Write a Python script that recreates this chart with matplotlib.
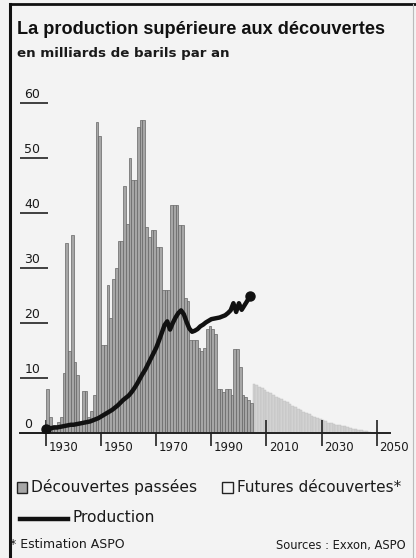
import matplotlib
matplotlib.use("Agg")
import matplotlib.pyplot as plt
from matplotlib.patches import Rectangle
from matplotlib.lines import Line2D
import matplotlib.transforms as mtransforms

# past discoveries, one value per year from 1930 (billions of barrels)
past_years = list(range(1930, 2005))
past_values = [
    8, 3, 1.5, 1.5, 2, 3, 11, 34.5, 15, 36,
    13, 10.5, 2, 7.7, 7.7, 3, 4, 7, 56.5, 54,
    16, 16, 27, 21, 28, 30, 35, 35, 45, 38,
    50, 46, 46, 55.7, 57, 57, 37.4, 35.6, 37, 37,
    33.8, 33.8, 26, 26, 26, 41.4, 41.4, 41.4, 37.8, 37.8,
    24.6, 24, 17, 17, 17, 15.5, 15, 15.5, 19, 19.5,
    19, 18, 8, 8, 7.5, 8, 8, 7, 15.3, 15.3,
    12, 7, 6.5, 6, 5.5,
]

# future discoveries (ASPO estimate)
future_years = list(range(2005, 2048))
future_values = [
    9.0, 8.7, 8.4, 8.1, 7.8, 7.5, 7.2, 6.9, 6.6, 6.4,
    6.2, 5.9, 5.6, 5.3, 5.0, 4.7, 4.4, 4.2, 3.9, 3.6,
    3.4, 3.1, 2.9, 2.7, 2.5, 2.3, 2.1, 1.9, 1.8, 1.6,
    1.5, 1.4, 1.3, 1.2, 1.1, 0.9, 0.8, 0.7, 0.6, 0.5,
    0.4, 0.3, 0.2,
]

# production
prod_years = list(range(1930, 2005))
prod_values = [
    0.8, 0.9, 0.9, 1.0, 1.0, 1.1, 1.2, 1.3, 1.4, 1.5,
    1.5, 1.6, 1.7, 1.8, 1.9, 2.0, 2.1, 2.3, 2.5, 2.7,
    3.0, 3.3, 3.6, 3.9, 4.2, 4.6, 5.0, 5.5, 6.0, 6.4,
    6.8, 7.4, 8.1, 8.9, 9.8, 10.7, 11.5, 12.5, 13.5, 14.5,
    15.5, 16.8, 18.2, 19.6, 20.3, 18.8, 20.0, 21.0, 21.8, 22.3,
    21.6, 20.2, 19.0, 18.4, 18.6, 18.9, 19.4, 19.7, 20.1, 20.4,
    20.7, 20.8, 20.9, 21.0, 21.2, 21.4, 21.8, 22.3, 23.6, 22.0,
    23.6, 22.4, 23.2, 24.0, 25.0,
]

y_ticks = [0, 10, 20, 30, 40, 50, 60]
x_ticks = [1930, 1950, 1970, 1990, 2010, 2030, 2050]

W, H = 416, 558
fig = plt.figure(figsize=(W / 100, H / 100), dpi=100, facecolor="#f3f3f3")

def fx(px):
    return px / W

def fy(py):
    return 1 - py / H

# axes: 0 at y=433 px, 60 at y=103 px; 1930 at x=46 px, 2050 at x=377 px
ax = fig.add_axes([fx(20), fy(433), fx(370), (433 - 92) / H])
ax.set_facecolor("#f3f3f3")
ax.set_ylim(0, 62)
x0 = 1930 - 26 / 2.756
ax.set_xlim(x0, x0 + 370 / 2.756)

ax.bar(past_years, past_values, width=1.0, align="edge",
       color="#a6a6a6", edgecolor="#666666", linewidth=0.5, zorder=2)
ax.bar(future_years, future_values, width=1.0, align="edge",
       color="#d2d2d2", edgecolor="#bdbdbd", linewidth=0.3, zorder=1)
ax.plot(prod_years, prod_values, color="#111111", linewidth=3.2,
        solid_capstyle="round", zorder=4)
ax.plot([prod_years[0], prod_years[-1]], [prod_values[0], prod_values[-1]],
        "o", color="#111111", markersize=6.5, zorder=5)

for s in ["left", "right", "top"]:
    ax.spines[s].set_visible(False)
ax.spines["bottom"].set_linewidth(1.4)
ax.spines["bottom"].set_color("#222222")

ax.set_yticks(y_ticks)
ax.set_yticklabels([])
ax.tick_params(axis="y", direction="in", length=20, width=1.2, color="#222222")
ax.set_xticks(x_ticks)
ax.set_xticklabels([])
ax.tick_params(axis="x", direction="inout", length=19, width=1.2, color="#222222")

for v in y_ticks:
    ax.text(0.012, v + 0.4, str(v), transform=ax.get_yaxis_transform(),
            ha="left", va="bottom", fontsize=9, color="#1a1a1a")

xtr = mtransforms.blended_transform_factory(ax.transData, ax.transAxes)
for yr in x_ticks:
    ax.text(yr + 0.9, -0.043, str(yr), transform=xtr, ha="left", va="center",
            fontsize=8.5, color="#1a1a1a")

# title block
fig.text(fx(17), fy(30), "La production supérieure aux découvertes",
         ha="left", va="center", fontweight="bold", color="#111111",
         family="Liberation Sans", fontsize=13.1)
fig.text(fx(17), fy(53), "en milliards de barils par an",
         ha="left", va="center", fontweight="bold", fontsize=9.6, color="#1a1a1a",
         family="DejaVu Sans")

# legend
fig.patches.append(Rectangle((fx(17), fy(493)), fx(10), 11 / H, transform=fig.transFigure,
                             facecolor="#a6a6a6", edgecolor="#222222", linewidth=1))
fig.text(fx(31), fy(487), "Découvertes passées", ha="left", va="center",
         fontsize=11.2, color="#1a1a1a")
fig.patches.append(Rectangle((fx(222), fy(493)), fx(11), 11 / H, transform=fig.transFigure,
                             facecolor="#f3f3f3", edgecolor="#222222", linewidth=1))
fig.text(fx(237), fy(487), "Futures découvertes*", ha="left", va="center",
         fontsize=11, color="#1a1a1a")
fig.add_artist(Line2D([fx(20), fx(68)], [fy(519), fy(519)], color="#111111",
                      linewidth=3.2, transform=fig.transFigure))
fig.text(fx(72), fy(518), "Production", ha="left", va="center",
         fontsize=11.2, color="#1a1a1a")

fig.text(fx(10), fy(545), "* Estimation ASPO", ha="left", va="center",
         fontsize=9, color="#1a1a1a")
fig.text(fx(406), fy(545), "Sources : Exxon, ASPO", ha="right", va="center",
         fontsize=8.3, color="#1a1a1a")

# frame
fig.add_artist(Line2D([fx(10), fx(10)], [fy(4), fy(558)], color="#111111",
                      linewidth=2.2, transform=fig.transFigure))
fig.add_artist(Line2D([fx(10), fx(416)], [fy(4), fy(4)], color="#111111",
                      linewidth=2.0, transform=fig.transFigure))
fig.add_artist(Line2D([fx(413), fx(413)], [fy(4), fy(558)], color="#bbbbbb",
                      linewidth=0.8, transform=fig.transFigure))

fig.savefig("out.png", dpi=100, facecolor=fig.get_facecolor())
